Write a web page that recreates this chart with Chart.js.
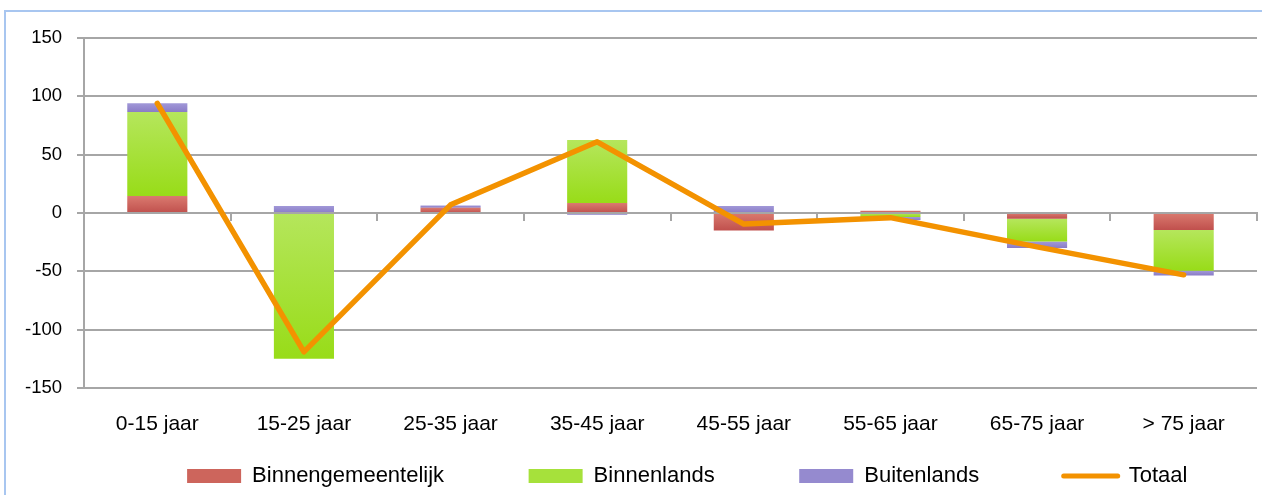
<!DOCTYPE html>
<html>
<head>
<meta charset="utf-8">
<script src="https://cdn.jsdelivr.net/npm/chart.js@4.4.1/dist/chart.umd.min.js"></script>
<style>
  html, body { margin: 0; padding: 0; background: #fff; overflow: hidden; }
  #frame { position: absolute; left: 4px; top: 10px; width: 1320px; height: 540px;
           border-left: 2px solid #a8c6f0; border-top: 2px solid #a8c6f0; }
  #wrap { position: absolute; left: 0; top: 0; width: 1262px; height: 495px; }
</style>
</head>
<body>
<div id="frame"></div>
<div id="wrap"><canvas id="chart" width="1262" height="495"></canvas></div>
<script>
// categories and series
const categories = ['0-15 jaar', '15-25 jaar', '25-35 jaar', '35-45 jaar', '45-55 jaar', '55-65 jaar', '65-75 jaar', '> 75 jaar'];
const binnengemeentelijk = [14.5, 0, 4.5, 8.5, -15, 2, -5, -14.5];
const binnenlands = [72, -125, 0, 54, 0, -3.5, -19.5, -35];
const buitenlands = [7.5, 6, 2, -1.5, 6, -2.5, -5.5, -4];
const totaal = [94, -119, 7, 61, -9.5, -4, -29, -53];
const seriesNames = ['Binnengemeentelijk', 'Binnenlands', 'Buitenlands', 'Totaal'];
const yMin = -150, yMax = 150, yStep = 50;

const barSeries = [binnengemeentelijk, binnenlands, buitenlands];
// light (top) -> dark (bottom) for each bar series, plus a mid tone for the legend
const shades = [['#da7a6f', '#c0504d'], ['#b5e65c', '#98dc18'], ['#a198d8', '#8a7cc6']];
const legendShades = ['#cd655c', '#a6e13b', '#958acf'];
const orange = '#f39200';
const gridGrey = '#a6a6a6';

// where a segment sits in its stack (positives and negatives stack apart)
function stackRange(s, j) {
    const v = barSeries[s][j];
    let base = 0;
    for (let k = 0; k < s; k++) {
        const w = barSeries[k][j];
        if ((w >= 0) === (v >= 0)) base += w;
    }
    return [base, base + v];
}

function fillFor(s) {
    return (ctx) => {
        const flat = shades[s][1];
        if (ctx.type !== 'data') return flat;
        const y = ctx.chart.scales.y;
        if (!y) return flat;
        const [a, b] = stackRange(s, ctx.dataIndex);
        const top = y.getPixelForValue(Math.max(a, b));
        const bot = y.getPixelForValue(Math.min(a, b));
        if (!(bot - top > 0.5)) return flat;
        const g = ctx.chart.ctx.createLinearGradient(0, top, 0, bot);
        g.addColorStop(0, shades[s][0]);
        g.addColorStop(1, shades[s][1]);
        return g;
    };
}

// legend items sit far apart; the wide padding would also push the items down,
// so reserve a small strip and pull the legend's top edge back up.
// The original legend is also a bit right of centre.
const legendLift = {
    id: 'legendLift',
    afterLayout(chart) {
        const lg = chart.legend;
        lg.top -= lg.options.labels.padding;
        lg.left += 58.75;
        lg.right += 58.75;
    }
};

Chart.defaults.font.family = "'Liberation Sans', Arial, sans-serif";
Chart.defaults.color = '#000';

const barSet = (label, data, s) => ({
    type: 'bar',
    label: label,
    data: data,
    backgroundColor: fillFor(s),
    legendColor: legendShades[s],
    borderWidth: 0,
    categoryPercentage: 1,
    barPercentage: 0.41,
    order: 1
});

new Chart(document.getElementById('chart'), {
    data: {
        labels: categories,
        datasets: [
            barSet(seriesNames[0], binnengemeentelijk, 0),
            barSet(seriesNames[1], binnenlands, 1),
            barSet(seriesNames[2], buitenlands, 2),
            {
                type: 'line',
                label: seriesNames[3],
                data: totaal,
                stack: 'line',
                borderColor: orange,
                backgroundColor: orange,
                legendColor: orange,
                borderWidth: 5.5,
                borderJoinStyle: 'round',
                borderCapStyle: 'round',
                pointRadius: 0,
                tension: 0,
                order: 0
            }
        ]
    },
    options: {
        responsive: false,
        animation: false,
        layout: { padding: { top: 38, right: 5, left: 0, bottom: 0 } },
        plugins: {
            tooltip: { enabled: false },
            legend: {
                position: 'bottom',
                maxHeight: 30,
                labels: {
                    usePointStyle: true,
                    pointStyleWidth: 54,
                    boxHeight: 14,
                    padding: 84.5,
                    font: { size: 22 },
                    generateLabels: (chart) => chart.data.datasets.map((ds, i) => ({
                        text: ds.label,
                        datasetIndex: i,
                        fillStyle: ds.legendColor,
                        strokeStyle: ds.legendColor,
                        lineWidth: ds.type === 'line' ? 5 : 0,
                        lineCap: 'round',
                        pointStyle: ds.type === 'line' ? 'line' : 'rect',
                        hidden: false
                    }))
                }
            }
        },
        scales: {
            x: {
                stacked: true,
                offset: true,
                grid: { display: false, drawTicks: false },
                border: { display: false },
                ticks: { font: { size: 21 }, padding: 24, maxRotation: 0 },
                afterFit: (s) => { s.height = 77; }
            },
            xZero: {
                axis: 'x',
                type: 'category',
                labels: categories,
                position: { y: 0 },
                offset: true,
                grid: { offset: true, drawOnChartArea: false, tickLength: 7, color: gridGrey, lineWidth: 2 },
                border: { color: gridGrey, width: 2 },
                ticks: { display: false }
            },
            y: {
                stacked: true,
                min: yMin,
                max: yMax,
                ticks: { stepSize: yStep, font: { size: 18.5 }, padding: 15 },
                grid: { color: gridGrey, lineWidth: 2, tickLength: 7 },
                border: { color: gridGrey, width: 2 },
                afterFit: (s) => { s.width = 84; }
            }
        }
    },
    plugins: [legendLift]
});
</script>
</body>
</html>
